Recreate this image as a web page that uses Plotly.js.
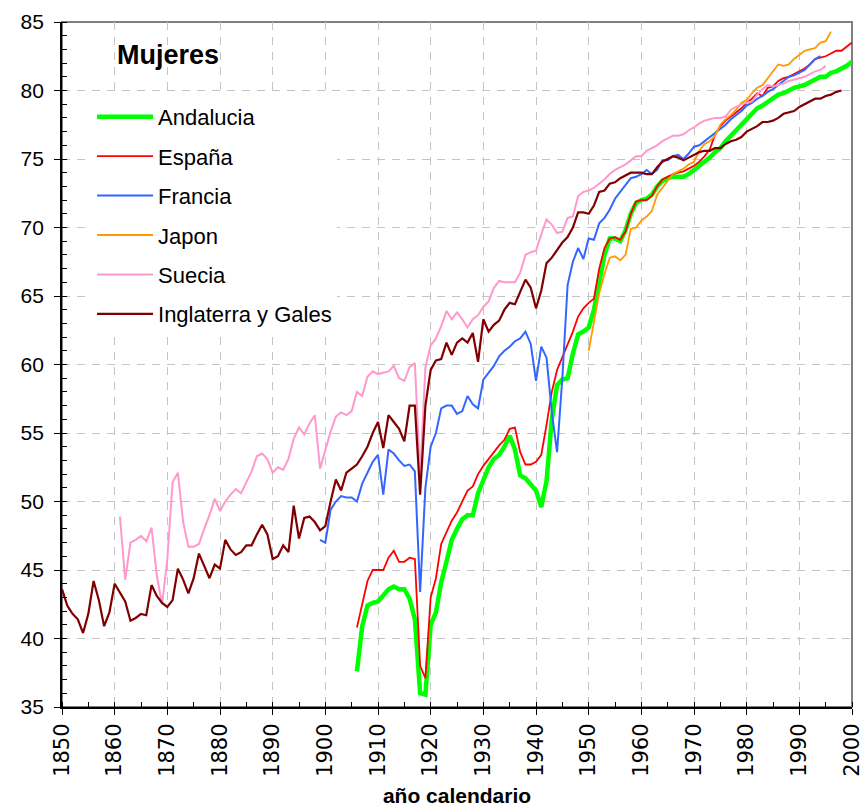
<!DOCTYPE html>
<html>
<head>
<meta charset="utf-8">
<script src="https://cdn.plot.ly/plotly-3.0.1.min.js"></script>
<style>html,body{margin:0;padding:0;background:#fff;}#chart{width:861px;height:809px;}</style>
</head>
<body>
<div id="chart"></div>
<script>
// Series names
const seriesNames = ['Andalucia', 'España', 'Francia', 'Japon', 'Suecia', 'Inglaterra y Gales'];

// Andalucia, 1906-2000
const andaluciaStart = 1906;
const andaluciaValues = [
  37.6, 40.9, 42.4, 42.6,
  42.7, 43.1, 43.6, 43.8, 43.6, 43.6, 42.9, 41.4, 36.0, 35.9,
  41.0, 41.9, 44.1, 45.6, 47.2, 48.0, 48.7, 49.0, 49.0, 50.6,
  51.5, 52.5, 53.1, 53.4, 54.0, 54.8, 53.8, 51.9, 51.7, 51.3,
  50.8, 49.6, 51.5, 56.0, 58.5, 58.9, 59.0, 60.8, 62.2, 62.4,
  62.7, 64.0, 66.0, 68.0, 69.2, 69.2, 69.0, 69.8, 71.0, 71.8,
  72.0, 72.1, 72.4, 73.0, 73.4, 73.6, 73.7, 73.7, 73.7, 73.9,
  74.2, 74.4, 74.7, 75.1, 75.5, 75.8, 76.3, 76.7, 77.1, 77.6,
  77.9, 78.4, 78.7, 78.9, 79.2, 79.4, 79.7, 79.8, 80.0, 80.2,
  80.3, 80.4, 80.6, 80.8, 81.0, 81.0, 81.3, 81.4, 81.6, 81.8,
  82.1
];

// España, 1906-2000
const espanaStart = 1906;
const espanaValues = [
  40.8, 42.5, 44.2, 45.0,
  45.0, 45.0, 45.9, 46.4, 45.6, 45.6, 45.9, 45.8, 38.0, 37.1,
  43.0, 44.4, 46.9, 47.7, 48.6, 49.2, 50.0, 50.8, 51.1, 52.0,
  52.6, 53.1, 53.6, 54.1, 54.5, 55.3, 55.4, 53.6, 52.7, 52.7,
  52.9, 53.4, 55.6, 58.0, 59.6, 60.5, 61.4, 62.4, 63.5, 64.1,
  64.5, 64.8, 67.0, 68.5, 69.2, 69.3, 69.1, 69.7, 71.0, 71.9,
  72.0, 72.0, 72.3, 73.0, 73.5, 73.7, 73.9, 74.0, 74.1, 74.3,
  74.5, 74.8, 75.2, 75.7, 76.8, 77.4, 77.8, 78.1, 78.4, 78.7,
  79.1, 79.4, 79.8, 79.6, 80.2, 80.3, 80.7, 80.9, 81.0, 81.2,
  81.4, 81.6, 81.9, 82.3, 82.4, 82.5, 82.7, 82.9, 82.9, 83.2,
  83.5
];

// Francia, 1899-1994
const franciaStart = 1899;
const franciaValues = [
  47.2,
  47.0, 49.4, 50.0, 50.4, 50.3, 50.3, 50.0, 51.3, 52.1, 52.9,
  53.4, 50.5, 53.8, 53.5, 53.0, 52.6, 52.7, 52.2, 43.4, 51.0,
  54.0, 55.0, 56.8, 57.0, 57.0, 56.4, 56.6, 57.7, 57.1, 56.8,
  58.9, 59.4, 59.9, 60.6, 61.0, 61.3, 61.7, 61.9, 62.4, 61.5,
  58.8, 61.3, 60.5, 56.5, 53.6, 59.0, 65.8, 67.5, 68.5, 67.7,
  69.2, 69.1, 70.3, 70.7, 71.3, 72.1, 72.6, 73.1, 73.6, 73.7,
  73.9, 74.2, 73.9, 74.2, 74.9, 74.9, 75.2, 75.3, 75.0, 75.4,
  75.9, 76.0, 76.3, 76.6, 76.9, 77.2, 77.5, 77.9, 78.2, 78.5,
  78.9, 79.1, 79.4, 79.6, 79.9, 80.1, 80.4, 80.7, 81.0, 81.1,
  81.3, 81.5, 81.9, 82.3, 82.5
];

// Japon, 1950-1996
const japonStart = 1950;
const japonValues = [
  61.0, 63.2, 65.2, 66.6, 67.8, 67.9, 67.6, 68.0, 69.9, 70.0,
  70.5, 70.8, 71.2, 72.4, 72.9, 73.4, 73.9, 74.1, 74.3, 74.6,
  74.8, 75.6, 76.1, 76.3, 76.7, 77.5, 77.9, 78.2, 78.6, 79.1,
  79.3, 79.8, 80.2, 80.4, 80.9, 81.4, 81.9, 81.8, 81.9, 82.3,
  82.6, 82.9, 83.0, 83.1, 83.5, 83.6, 84.3
];

// Suecia, 1861-1995
const sueciaStart = 1861;
const sueciaValues = [
  48.9, 44.3, 47.0, 47.2, 47.5, 47.1, 48.1, 44.6, 42.5,
  45.8, 51.4, 52.1, 48.5, 46.7, 46.7, 46.9, 48.0, 49.0, 50.2,
  49.3, 50.0, 50.5, 50.9, 50.6, 51.4, 52.2, 53.3, 53.5, 53.1,
  52.1, 52.5, 52.3, 53.1, 54.6, 55.4, 54.9, 55.7, 56.3, 52.4,
  53.7, 55.1, 56.2, 56.5, 56.3, 56.6, 58.0, 57.7, 59.1, 59.5,
  59.3, 59.4, 59.5, 59.9, 59.0, 58.8, 59.8, 60.1, 51.8, 59.8,
  61.4, 61.9, 62.8, 63.9, 63.3, 63.8, 63.3, 62.7, 63.3, 63.6,
  64.2, 64.6, 65.6, 66.1, 66.0, 66.0, 66.0, 66.7, 68.0, 68.2,
  68.3, 69.5, 70.6, 70.2, 69.6, 69.7, 70.7, 70.8, 72.3, 72.6,
  72.7, 72.9, 73.2, 73.5, 73.9, 74.2, 74.4, 74.6, 74.9, 75.2,
  75.2, 75.6, 75.8, 76.0, 76.3, 76.5, 76.7, 76.7, 76.8, 77.1,
  77.3, 77.6, 77.8, 77.9, 78.0, 78.0, 78.1, 78.6, 78.8, 79.0,
  79.1, 79.2, 79.7, 80.1, 80.4, 80.3, 80.4, 80.5, 80.7, 80.8,
  80.9, 81.0, 81.2, 81.4, 81.5, 81.8
];

// Inglaterra y Gales, 1850-1998
const inglaterraStart = 1850;
const inglaterraValues = [
  43.6, 42.4, 41.8, 41.4, 40.4, 41.8, 44.2, 42.8, 40.9, 41.9,
  44.0, 43.4, 42.7, 41.3, 41.5, 41.8, 41.7, 43.9, 43.1, 42.6,
  42.3, 42.8, 45.1, 44.3, 43.3, 44.4, 46.2, 45.3, 44.4, 45.4,
  45.1, 47.2, 46.5, 46.1, 46.3, 46.8, 46.8, 47.6, 48.3, 47.6,
  45.8, 46.0, 46.8, 46.3, 49.7, 47.3, 48.8, 48.9, 48.5, 47.9,
  48.2, 50.0, 51.6, 50.8, 52.1, 52.4, 52.7, 53.3, 54.0, 55.0,
  55.8, 53.9, 56.3, 55.8, 55.3, 54.4, 57.0, 57.0, 50.5, 57.0,
  59.6, 60.3, 60.4, 61.6, 60.7, 61.6, 61.9, 61.6, 62.3, 60.2,
  63.3, 62.4, 62.9, 63.2, 64.0, 64.5, 64.4, 65.3, 66.2, 65.6,
  64.1, 65.4, 67.4, 67.8, 68.4, 68.9, 69.3, 70.0, 71.1, 71.1,
  71.0, 71.6, 72.6, 72.7, 73.2, 73.3, 73.6, 73.8, 74.0, 74.0,
  74.0, 73.9, 73.9, 74.4, 74.8, 75.0, 75.2, 75.1, 74.9, 75.1,
  75.3, 75.5, 75.6, 75.6, 75.8, 75.8, 76.1, 76.3, 76.4, 76.6,
  77.0, 77.2, 77.4, 77.7, 77.7, 77.8, 78.0, 78.3, 78.4, 78.5,
  78.8, 79.0, 79.2, 79.4, 79.4, 79.6, 79.7, 79.9, 80.0
];

// Axis tick labels
const xTickYears = [1850, 1860, 1870, 1880, 1890, 1900, 1910, 1920, 1930, 1940, 1950, 1960, 1970, 1980, 1990, 2000];
const yTickValues = [35, 40, 45, 50, 55, 60, 65, 70, 75, 80, 85];

function yearsFor(start, values) {
  return values.map(function (_, i) { return start + i; });
}

const seriesData = [
  {name: seriesNames[0], start: andaluciaStart, values: andaluciaValues, color: '#00FF00', width: 4.5},
  {name: seriesNames[1], start: espanaStart, values: espanaValues, color: '#FF0000', width: 1.8},
  {name: seriesNames[2], start: franciaStart, values: franciaValues, color: '#3366FF', width: 2},
  {name: seriesNames[3], start: japonStart, values: japonValues, color: '#FF9900', width: 1.8},
  {name: seriesNames[4], start: sueciaStart, values: sueciaValues, color: '#FF99CC', width: 2},
  {name: seriesNames[5], start: inglaterraStart, values: inglaterraValues, color: '#800000', width: 2.2}
];

const traces = seriesData.map(function (s, i) {
  return {
    type: 'scatter',
    mode: 'lines',
    name: s.name,
    legendgroup: 'g' + i,
    x: yearsFor(s.start, s.values),
    y: s.values,
    line: {color: s.color, width: s.width},
    hoverinfo: 'x+y+name'
  };
});

const FONT = 'Arial, "Liberation Sans", sans-serif';
const WIDE_FONT = '"DejaVu Sans", Arial, sans-serif';

const layout = {
  width: 861,
  height: 809,
  margin: {l: 62, r: 9, t: 22, b: 102, pad: 0},
  paper_bgcolor: '#ffffff',
  plot_bgcolor: '#ffffff',
  font: {family: FONT, color: '#000000'},
  showlegend: true,
  legend: {
    x: 0.038, y: 0.892, xanchor: 'left', yanchor: 'top',
    bgcolor: '#ffffff', borderwidth: 0,
    font: {family: FONT, size: 22, color: '#000000'},
    traceorder: 'grouped', tracegroupgap: 7.8,
    itemwidth: 56
  },
  xaxis: {
    range: [1850, 2000],
    tickmode: 'array', tickvals: xTickYears, ticktext: xTickYears.map(String),
    tickangle: -90,
    ticks: 'outside', ticklen: 6, tickwidth: 1, tickcolor: '#000000',
    showline: true, linecolor: '#000000', linewidth: 2,
    showgrid: true, gridcolor: '#c4c4c4', gridwidth: 1, griddash: '8px,7px',
    zeroline: false,
    ticklabeloverflow: 'allow',
    tickfont: {family: WIDE_FONT, size: 21, color: '#000000'},
    minor: {dtick: 5, tick0: 1850, ticks: 'inside', ticklen: 5, tickwidth: 1, tickcolor: '#000000', showgrid: false},
    title: {text: 'año calendario', font: {family: FONT, size: 21, color: '#000000', weight: 'bold'}, standoff: 12}
  },
  yaxis: {
    range: [35, 85],
    tickmode: 'array', tickvals: yTickValues,
    ticktext: yTickValues.map(function (v) { return String(v) + '\u00a0'; }),
    ticks: 'outside', ticklen: 6, tickwidth: 1, tickcolor: '#000000',
    showline: true, linecolor: '#000000', linewidth: 2,
    showgrid: true, gridcolor: '#c4c4c4', gridwidth: 1, griddash: '8px,7px',
    zeroline: false,
    ticklabeloverflow: 'allow',
    tickfont: {family: FONT, size: 21, color: '#000000'},
    minor: {dtick: 1, tick0: 35, ticks: 'inside', ticklen: 5, tickwidth: 1, tickcolor: '#000000', showgrid: false}
  },
  shapes: [{
    type: 'rect', xref: 'paper', yref: 'paper', x0: 0, x1: 1, y0: 0, y1: 1,
    line: {color: '#808080', width: 2}, fillcolor: 'rgba(0,0,0,0)', layer: 'below'
  }],
  annotations: [{
    text: 'Mujeres', xref: 'paper', yref: 'paper',
    x: 0.067, y: 0.952, xanchor: 'left', yanchor: 'middle', showarrow: false,
    font: {family: FONT, size: 27, color: '#000000', weight: 'bold'}
  }]
};

Plotly.newPlot('chart', traces, layout, {displayModeBar: false, staticPlot: true});
</script>
</body>
</html>
